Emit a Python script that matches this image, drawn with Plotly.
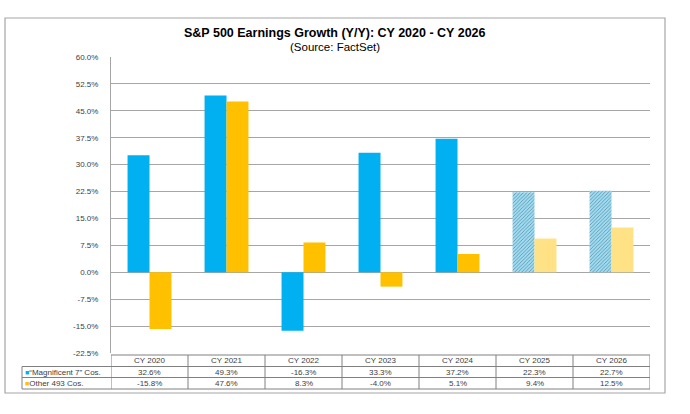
import plotly.graph_objects as go

categories = ["CY 2020", "CY 2021", "CY 2022", "CY 2023", "CY 2024", "CY 2025", "CY 2026"]
mag7 = [32.6, 49.3, -16.3, 33.3, 37.2, 22.3, 22.7]
other493 = [-15.8, 47.6, 8.3, -4.0, 5.1, 9.4, 12.5]
series_names = ["\u201cMagnificent 7\u201d Cos.", "Other 493 Cos."]
estimate_flags = [False, False, False, False, False, True, True]
tick_vals = [-22.5, -15, -7.5, 0, 7.5, 15, 22.5, 30, 37.5, 45, 52.5, 60]

BLUE = "#00B0F0"
YEL = "#FFC000"
LBLUE = "#9ADDF6"
LYEL = "#FFE285"

W, H = 690, 414
L, R, T, B = 111, 650, 57, 353

def px(x):
    return (x - L) / (R - L)

def py(y):
    return (B - y) / (B - T)

fig = go.Figure()
fig.add_bar(
    x=categories, y=mag7, name=series_names[0],
    marker=dict(
        color=[LBLUE if e else BLUE for e in estimate_flags],
        line=dict(width=0),
        pattern=dict(shape=["/" if e else "" for e in estimate_flags],
                     fgcolor="#6CD0F4", size=2.5, solidity=0.35),
    ),
)
fig.add_bar(
    x=categories, y=other493, name=series_names[1],
    marker=dict(color=[LYEL if e else YEL for e in estimate_flags], line=dict(width=0)),
)

font = "Arial, Liberation Sans, sans-serif"
fig.update_layout(
    width=W, height=H,
    margin=dict(l=L, r=W - R, t=T, b=H - B, pad=0),
    paper_bgcolor="white", plot_bgcolor="white",
    barmode="group", bargap=0.43, bargroupgap=0,
    showlegend=False,
    font=dict(family=font, size=8, color="#404040"),
)
fig.update_xaxes(showticklabels=False, showgrid=False, zeroline=False, showline=False,
                 range=[-0.5, len(categories) - 0.5])
fig.update_yaxes(range=[-22.5, 60], tickvals=tick_vals,
                 ticktext=[f"{v:.1f}%" for v in tick_vals],
                 showgrid=True, gridcolor="#A6A6A6", gridwidth=1,
                 zeroline=False, showline=True, linecolor="#A6A6A6", linewidth=1,
                 ticks="", ticklabelstandoff=10,
                 tickfont=dict(size=8, color="#404040"))

shapes = []
annots = []
# outer border
shapes.append(dict(type="rect", xref="paper", yref="paper",
                   x0=px(5), x1=px(665), y0=py(393), y1=py(18),
                   line=dict(color="#A6A6A6", width=1.2), layer="below"))
# title
annots.append(dict(xref="paper", yref="paper", x=px(335), y=py(33), xanchor="center", yanchor="middle",
                   text="<b>S&P 500 Earnings Growth (Y/Y): CY 2020 - CY 2026</b>",
                   showarrow=False, font=dict(size=12.5, color="#000000", family=font)))
annots.append(dict(xref="paper", yref="paper", x=px(335), y=py(47), xanchor="center", yanchor="middle",
                   text="(Source: FactSet)", showarrow=False,
                   font=dict(size=11.5, color="#000000", family=font)))

# table
t_top, r1, r2, t_bot = 355, 366.5, 377.5, 389
tl = 22
lc = "#808080"
shapes.append(dict(type="line", xref="paper", yref="paper", x0=0, x1=1, y0=py(t_top), y1=py(t_top),
                   line=dict(color=lc, width=1)))
for yy in (r1, r2, t_bot):
    shapes.append(dict(type="line", xref="paper", yref="paper", x0=px(tl), x1=1, y0=py(yy), y1=py(yy),
                       line=dict(color=lc, width=1)))
shapes.append(dict(type="line", xref="paper", yref="paper", x0=px(tl), x1=px(tl), y0=py(r1), y1=py(t_bot),
                   line=dict(color=lc, width=1)))
for i in range(len(categories) + 1):
    shapes.append(dict(type="line", xref="x", yref="paper", x0=i - 0.5, x1=i - 0.5,
                       y0=py(t_top), y1=py(t_bot), line=dict(color=lc, width=1)))

rows = [(r1 + t_top) / 2, (r1 + r2) / 2, (r2 + t_bot) / 2]
cell_font = dict(size=8, color="#404040")
for i, c in enumerate(categories):
    annots.append(dict(xref="x", yref="paper", x=i, y=py(rows[0]), text=c, showarrow=False,
                       xanchor="center", yanchor="middle", font=cell_font))
    annots.append(dict(xref="x", yref="paper", x=i, y=py(rows[1]), text=f"{mag7[i]:.1f}%",
                       xanchor="center", yanchor="middle", showarrow=False, font=cell_font))
    annots.append(dict(xref="x", yref="paper", x=i, y=py(rows[2]), text=f"{other493[i]:.1f}%",
                       xanchor="center", yanchor="middle", showarrow=False, font=cell_font))
for k, (nm, col) in enumerate(zip(series_names, [BLUE, YEL])):
    annots.append(dict(xref="paper", yref="paper", x=px(tl + 1), y=py(rows[k + 1]),
                       xanchor="left", yanchor="middle",
                       text=f"<span style='color:{col};font-size:7px'>■</span>{nm}", showarrow=False,
                       font=cell_font))

fig.update_layout(shapes=shapes, annotations=annots)
fig.write_html("out.html", config={"displayModeBar": False},
               post_script="document.body.style.margin='0';document.body.style.overflow='hidden';")
